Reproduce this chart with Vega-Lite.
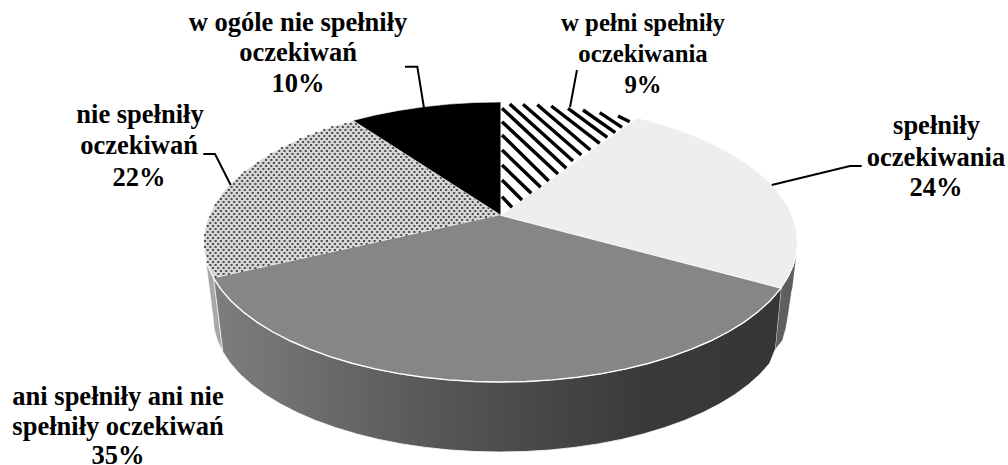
{"$schema":"https://vega.github.io/schema/vega-lite/v6.json","width":1008,"height":465,"padding":0,"autosize":{"type":"none"},"background":"white","config":{"view":{"stroke":null}},
"datasets":{
"outline":[
{"s":"rightwall","x":796.4,"y":254.2},{"s":"rightwall","x":793,"y":266.3},{"s":"rightwall","x":787.4,"y":278.2},{"s":"rightwall","x":781,"y":288},{"s":"rightwall","x":775,"y":350},{"s":"rightwall","x":782.6,"y":340.4},{"s":"rightwall","x":785.9,"y":328.8},{"s":"rightwall","x":788,"y":317},{"s":"rightwall","x":792,"y":290},
{"s":"dotwall","x":213.6,"y":278.2},{"s":"dotwall","x":208,"y":266.3},{"s":"dotwall","x":206,"y":262},{"s":"dotwall","x":213,"y":317},{"s":"dotwall","x":214.1,"y":328.8},{"s":"dotwall","x":217.4,"y":340.4},{"s":"dotwall","x":222.8,"y":351.9},
{"s":"darkwall","x":781,"y":288},{"s":"darkwall","x":779.6,"y":289.9},{"s":"darkwall","x":769.7,"y":301.2},{"s":"darkwall","x":757.7,"y":312},{"s":"darkwall","x":743.8,"y":322.3},{"s":"darkwall","x":728,"y":332},{"s":"darkwall","x":710.5,"y":341},{"s":"darkwall","x":691.4,"y":349.2},{"s":"darkwall","x":670.9,"y":356.7},{"s":"darkwall","x":649,"y":363.2},{"s":"darkwall","x":626,"y":368.9},{"s":"darkwall","x":602.1,"y":373.6},{"s":"darkwall","x":577.4,"y":377.2},{"s":"darkwall","x":552.1,"y":379.9},{"s":"darkwall","x":526.4,"y":381.5},{"s":"darkwall","x":500.5,"y":382},{"s":"darkwall","x":474.6,"y":381.5},{"s":"darkwall","x":448.9,"y":379.9},{"s":"darkwall","x":423.6,"y":377.2},{"s":"darkwall","x":398.9,"y":373.6},{"s":"darkwall","x":375,"y":368.9},{"s":"darkwall","x":352,"y":363.2},{"s":"darkwall","x":330.1,"y":356.7},{"s":"darkwall","x":309.6,"y":349.2},{"s":"darkwall","x":290.5,"y":341},{"s":"darkwall","x":273,"y":332},{"s":"darkwall","x":257.2,"y":322.3},{"s":"darkwall","x":243.3,"y":312},{"s":"darkwall","x":231.3,"y":301.2},{"s":"darkwall","x":221.4,"y":289.9},{"s":"darkwall","x":213.6,"y":278.2},
{"s":"darkwall","x":222.8,"y":351.9},{"s":"darkwall","x":230.3,"y":363.2},{"s":"darkwall","x":239.9,"y":374.1},{"s":"darkwall","x":251.5,"y":384.5},{"s":"darkwall","x":264.9,"y":394.4},{"s":"darkwall","x":280.2,"y":403.8},{"s":"darkwall","x":297.1,"y":412.5},{"s":"darkwall","x":315.5,"y":420.4},{"s":"darkwall","x":335.4,"y":427.6},{"s":"darkwall","x":356.5,"y":433.9},{"s":"darkwall","x":378.7,"y":439.4},{"s":"darkwall","x":401.8,"y":443.9},{"s":"darkwall","x":425.7,"y":447.4},{"s":"darkwall","x":450.2,"y":450},{"s":"darkwall","x":475,"y":451.5},{"s":"darkwall","x":500,"y":452},{"s":"darkwall","x":525,"y":451.5},{"s":"darkwall","x":549.8,"y":450},{"s":"darkwall","x":574.3,"y":447.4},{"s":"darkwall","x":598.2,"y":443.9},{"s":"darkwall","x":621.3,"y":439.4},{"s":"darkwall","x":643.5,"y":433.9},{"s":"darkwall","x":664.6,"y":427.6},{"s":"darkwall","x":684.5,"y":420.4},{"s":"darkwall","x":702.9,"y":412.5},{"s":"darkwall","x":719.8,"y":403.8},{"s":"darkwall","x":735.1,"y":394.4},{"s":"darkwall","x":748.5,"y":384.5},{"s":"darkwall","x":760.1,"y":374.1},{"s":"darkwall","x":769.7,"y":363.2},{"s":"darkwall","x":775,"y":350},
{"s":"w pełni spełniły oczekiwania","x":500.5,"y":215},{"s":"w pełni spełniły oczekiwania","x":500.5,"y":102},{"s":"w pełni spełniły oczekiwania","x":526.4,"y":102.5},{"s":"w pełni spełniły oczekiwania","x":552.1,"y":104.1},{"s":"w pełni spełniły oczekiwania","x":577.4,"y":106.8},{"s":"w pełni spełniły oczekiwania","x":602.1,"y":110.4},{"s":"w pełni spełniły oczekiwania","x":626,"y":115.1},{"s":"w pełni spełniły oczekiwania","x":637.1,"y":117.7},
{"s":"spełniły oczekiwania","x":500.5,"y":215},{"s":"spełniły oczekiwania","x":637.1,"y":117.7},{"s":"spełniły oczekiwania","x":649,"y":120.8},{"s":"spełniły oczekiwania","x":670.9,"y":127.3},{"s":"spełniły oczekiwania","x":691.4,"y":134.8},{"s":"spełniły oczekiwania","x":710.5,"y":143},{"s":"spełniły oczekiwania","x":728,"y":152},{"s":"spełniły oczekiwania","x":743.8,"y":161.7},{"s":"spełniły oczekiwania","x":757.7,"y":172},{"s":"spełniły oczekiwania","x":769.7,"y":182.8},{"s":"spełniły oczekiwania","x":779.6,"y":194.1},{"s":"spełniły oczekiwania","x":787.4,"y":205.8},{"s":"spełniły oczekiwania","x":793,"y":217.7},{"s":"spełniły oczekiwania","x":796.4,"y":229.8},{"s":"spełniły oczekiwania","x":797.5,"y":242},{"s":"spełniły oczekiwania","x":796.4,"y":254.2},{"s":"spełniły oczekiwania","x":793,"y":266.3},{"s":"spełniły oczekiwania","x":787.4,"y":278.2},{"s":"spełniły oczekiwania","x":781,"y":288},
{"s":"ani spełniły ani nie spełniły oczekiwań","x":500.5,"y":215},{"s":"ani spełniły ani nie spełniły oczekiwań","x":781,"y":288},{"s":"ani spełniły ani nie spełniły oczekiwań","x":779.6,"y":289.9},{"s":"ani spełniły ani nie spełniły oczekiwań","x":769.7,"y":301.2},{"s":"ani spełniły ani nie spełniły oczekiwań","x":757.7,"y":312},{"s":"ani spełniły ani nie spełniły oczekiwań","x":743.8,"y":322.3},{"s":"ani spełniły ani nie spełniły oczekiwań","x":728,"y":332},{"s":"ani spełniły ani nie spełniły oczekiwań","x":710.5,"y":341},{"s":"ani spełniły ani nie spełniły oczekiwań","x":691.4,"y":349.2},{"s":"ani spełniły ani nie spełniły oczekiwań","x":670.9,"y":356.7},{"s":"ani spełniły ani nie spełniły oczekiwań","x":649,"y":363.2},{"s":"ani spełniły ani nie spełniły oczekiwań","x":626,"y":368.9},{"s":"ani spełniły ani nie spełniły oczekiwań","x":602.1,"y":373.6},{"s":"ani spełniły ani nie spełniły oczekiwań","x":577.4,"y":377.2},{"s":"ani spełniły ani nie spełniły oczekiwań","x":552.1,"y":379.9},{"s":"ani spełniły ani nie spełniły oczekiwań","x":526.4,"y":381.5},{"s":"ani spełniły ani nie spełniły oczekiwań","x":500.5,"y":382},{"s":"ani spełniły ani nie spełniły oczekiwań","x":474.6,"y":381.5},{"s":"ani spełniły ani nie spełniły oczekiwań","x":448.9,"y":379.9},{"s":"ani spełniły ani nie spełniły oczekiwań","x":423.6,"y":377.2},{"s":"ani spełniły ani nie spełniły oczekiwań","x":398.9,"y":373.6},{"s":"ani spełniły ani nie spełniły oczekiwań","x":375,"y":368.9},{"s":"ani spełniły ani nie spełniły oczekiwań","x":352,"y":363.2},{"s":"ani spełniły ani nie spełniły oczekiwań","x":330.1,"y":356.7},{"s":"ani spełniły ani nie spełniły oczekiwań","x":309.6,"y":349.2},{"s":"ani spełniły ani nie spełniły oczekiwań","x":290.5,"y":341},{"s":"ani spełniły ani nie spełniły oczekiwań","x":273,"y":332},{"s":"ani spełniły ani nie spełniły oczekiwań","x":257.2,"y":322.3},{"s":"ani spełniły ani nie spełniły oczekiwań","x":243.3,"y":312},{"s":"ani spełniły ani nie spełniły oczekiwań","x":231.3,"y":301.2},{"s":"ani spełniły ani nie spełniły oczekiwań","x":221.4,"y":289.9},{"s":"ani spełniły ani nie spełniły oczekiwań","x":213.6,"y":278.2},
{"s":"nie spełniły oczekiwań","x":500.5,"y":215},{"s":"nie spełniły oczekiwań","x":213.6,"y":278.2},{"s":"nie spełniły oczekiwań","x":208,"y":266.3},{"s":"nie spełniły oczekiwań","x":204.6,"y":254.2},{"s":"nie spełniły oczekiwań","x":203.5,"y":242},{"s":"nie spełniły oczekiwań","x":204.6,"y":229.8},{"s":"nie spełniły oczekiwań","x":208,"y":217.7},{"s":"nie spełniły oczekiwań","x":213.6,"y":205.8},{"s":"nie spełniły oczekiwań","x":221.4,"y":194.1},{"s":"nie spełniły oczekiwań","x":231.3,"y":182.8},{"s":"nie spełniły oczekiwań","x":243.3,"y":172},{"s":"nie spełniły oczekiwań","x":257.2,"y":161.7},{"s":"nie spełniły oczekiwań","x":273,"y":152},{"s":"nie spełniły oczekiwań","x":290.5,"y":143},{"s":"nie spełniły oczekiwań","x":309.6,"y":134.8},{"s":"nie spełniły oczekiwań","x":330.1,"y":127.3},{"s":"nie spełniły oczekiwań","x":352.9,"y":120.5},
{"s":"w ogóle nie spełniły oczekiwań","x":500.5,"y":215},{"s":"w ogóle nie spełniły oczekiwań","x":352.9,"y":120.5},{"s":"w ogóle nie spełniły oczekiwań","x":375,"y":115.1},{"s":"w ogóle nie spełniły oczekiwań","x":398.9,"y":110.4},{"s":"w ogóle nie spełniły oczekiwań","x":423.6,"y":106.8},{"s":"w ogóle nie spełniły oczekiwań","x":448.9,"y":104.1},{"s":"w ogóle nie spełniły oczekiwań","x":474.6,"y":102.5},{"s":"w ogóle nie spełniły oczekiwań","x":500.5,"y":102}
],
"hatch":[{"x":502,"y":196.7,"x2":512,"y2":207.3},{"x":502,"y":180,"x2":522,"y2":200},{"x":502,"y":165,"x2":531.3,"y2":193.3},{"x":502,"y":150,"x2":540.7,"y2":187.3},{"x":502,"y":135,"x2":548.7,"y2":181},{"x":502,"y":121.7,"x2":558,"y2":174},{"x":502,"y":108.3,"x2":566.3,"y2":168.3},{"x":509.7,"y":104,"x2":573,"y2":161},{"x":523,"y":104.3,"x2":581.3,"y2":155},{"x":537.3,"y":104.7,"x2":590.3,"y2":150},{"x":551.3,"y":106,"x2":599.7,"y2":143.3},{"x":568,"y":108.3,"x2":607.3,"y2":137.3},{"x":583,"y":110,"x2":615.3,"y2":132.7},{"x":599.7,"y":112.7,"x2":622,"y2":127.3},{"x":618,"y":116,"x2":629.7,"y2":121.7}],
"dots":[{"x":344.5,"x2":357.7,"y":124},{"x":331.25,"x2":362.4,"y":127},{"x":323.3,"x2":367.1,"y":130},{"x":315.35,"x2":371.8,"y":133},{"x":307.4,"x2":376.5,"y":136},{"x":299.45,"x2":381.3,"y":139},{"x":296.8,"x2":386,"y":142},{"x":288.85,"x2":390.7,"y":145},{"x":280.9,"x2":395.4,"y":148},{"x":278.25,"x2":400.1,"y":151},{"x":270.3,"x2":404.8,"y":154},{"x":267.65,"x2":409.5,"y":157},{"x":265,"x2":414.2,"y":160},{"x":257.05,"x2":418.9,"y":163},{"x":254.4,"x2":423.6,"y":166},{"x":251.75,"x2":428.3,"y":169},{"x":243.8,"x2":433,"y":172},{"x":241.15,"x2":437.7,"y":175},{"x":238.5,"x2":442.4,"y":178},{"x":235.85,"x2":447.2,"y":181},{"x":233.2,"x2":451.9,"y":184},{"x":230.55,"x2":456.6,"y":187},{"x":227.9,"x2":461.3,"y":190},{"x":225.25,"x2":466,"y":193},{"x":222.6,"x2":470.7,"y":196},{"x":219.95,"x2":475.4,"y":199},{"x":217.3,"x2":480.1,"y":202},{"x":214.65,"x2":484.8,"y":205},{"x":217.3,"x2":489.5,"y":208},{"x":214.65,"x2":494.2,"y":211},{"x":212,"x2":498.9,"y":214},{"x":209.35,"x2":491.4,"y":217},{"x":212,"x2":477.7,"y":220},{"x":209.35,"x2":464.1,"y":223},{"x":206.7,"x2":450.5,"y":226},{"x":209.35,"x2":436.8,"y":229},{"x":206.7,"x2":423.1,"y":232},{"x":204.05,"x2":409.5,"y":235},{"x":206.7,"x2":395.8,"y":238},{"x":204.05,"x2":382.2,"y":241},{"x":206.7,"x2":368.5,"y":244},{"x":204.05,"x2":354.9,"y":247},{"x":206.7,"x2":341.2,"y":250},{"x":209.35,"x2":327.6,"y":253},{"x":206.7,"x2":313.9,"y":256},{"x":209.35,"x2":300.3,"y":259},{"x":206.7,"x2":286.6,"y":262},{"x":209.35,"x2":273,"y":265},{"x":212,"x2":259.5,"y":268},{"x":214.65,"x2":245.7,"y":271},{"x":217.3,"x2":232,"y":274},{"x":214.65,"x2":218.5,"y":277}],
"leaders":[{"k":"a","x":577,"y":70},{"k":"a","x":570,"y":107},{"k":"b","x":405,"y":66.7},{"k":"b","x":417.3,"y":66.7},{"k":"b","x":424,"y":108},{"k":"c","x":771.7,"y":185},{"k":"c","x":850,"y":166},{"k":"c","x":861.7,"y":166},{"k":"d","x":203.3,"y":154},{"k":"d","x":215,"y":154},{"k":"d","x":230.7,"y":185}],
"labels":[{"t":"w ogóle nie spełniły","x":298,"y":31},{"t":"oczekiwań","x":298,"y":61},{"t":"10%","x":298,"y":92},{"t":"spełniły","x":936.5,"y":134},{"t":"oczekiwania","x":936,"y":165.7},{"t":"24%","x":936,"y":196},{"t":"nie spełniły","x":140,"y":123},{"t":"oczekiwań","x":139,"y":154},{"t":"22%","x":139,"y":186},{"t":"ani spełniły ani nie","x":118,"y":405},{"t":"spełniły oczekiwań","x":118,"y":435},{"t":"35%","x":118,"y":464}],
"labelsSmall":[{"t":"w pełni spełniły","x":643,"y":31},{"t":"oczekiwania","x":643,"y":62},{"t":"9%","x":643,"y":93}]
},
"encoding":{"x":{"field":"x","type":"quantitative","axis":null,"scale":{"domain":[0,1008],"range":[0,1008],"nice":false,"zero":false}},"y":{"field":"y","type":"quantitative","axis":null,"scale":{"domain":[0,465],"range":[0,465],"nice":false,"zero":false}}},
"layer":[
{"data":{"name":"outline"},"transform":[{"filter":"datum.s==='rightwall'"}],"mark":{"type":"line","fill":"#5f5f5f","stroke":"white","strokeWidth":0.8},"encoding":{"order":{"value":null}}},
{"data":{"name":"outline"},"transform":[{"filter":"datum.s==='dotwall'"}],"mark":{"type":"line","fill":"#a8a8a8","stroke":"white","strokeWidth":0.6},"encoding":{"order":{"value":null}}},
{"data":{"name":"outline"},"transform":[{"filter":"datum.s==='darkwall'"}],"mark":{"type":"line","stroke":"white","strokeWidth":0.8,"fill":{"gradient":"linear","x1":0,"x2":1,"y1":0,"y2":0,"stops":[{"offset":0,"color":"#7e7e7e"},{"offset":0.4,"color":"#565656"},{"offset":0.75,"color":"#3a3a3a"},{"offset":1,"color":"#363636"}]}},"encoding":{"order":{"value":null}}},
{"data":{"name":"outline"},"transform":[{"filter":"datum.s==='nie spełniły oczekiwań'"}],"mark":{"type":"line","fill":"#d6d6d6","stroke":"white","strokeWidth":1},"encoding":{"order":{"value":null}}},
{"data":{"name":"dots"},"mark":{"type":"rule","stroke":"#4d4d4d","strokeWidth":2,"strokeDash":[2,3.3]},"encoding":{"x2":{"field":"x2"}}},
{"data":{"name":"outline"},"transform":[{"filter":"datum.s==='ani spełniły ani nie spełniły oczekiwań'"}],"mark":{"type":"line","fill":"#868686","stroke":"white","strokeWidth":1.4},"encoding":{"order":{"value":null}}},
{"data":{"name":"outline"},"transform":[{"filter":"datum.s==='spełniły oczekiwania'"}],"mark":{"type":"line","fill":"#eeeeee","stroke":"white","strokeWidth":1},"encoding":{"order":{"value":null}}},
{"data":{"name":"outline"},"transform":[{"filter":"datum.s==='w pełni spełniły oczekiwania'"}],"mark":{"type":"line","fill":"#ffffff","stroke":"white","strokeWidth":1},"encoding":{"order":{"value":null}}},
{"data":{"name":"hatch"},"mark":{"type":"rule","stroke":"black","strokeWidth":3.4},"encoding":{"x2":{"field":"x2"},"y2":{"field":"y2"}}},
{"data":{"name":"outline"},"transform":[{"filter":"datum.s==='w ogóle nie spełniły oczekiwań'"}],"mark":{"type":"line","fill":"#000000","stroke":"white","strokeWidth":0.6},"encoding":{"order":{"value":null}}},
{"data":{"name":"leaders"},"mark":{"type":"line","stroke":"black","strokeWidth":2},"encoding":{"detail":{"field":"k"},"order":{"value":null}}},
{"data":{"name":"labels"},"mark":{"type":"text","font":"Liberation Serif","fontWeight":"bold","fontSize":26.5,"align":"center","baseline":"alphabetic","fill":"black"},"encoding":{"text":{"field":"t"}}},
{"data":{"name":"labelsSmall"},"mark":{"type":"text","font":"Liberation Serif","fontWeight":"bold","fontSize":24.8,"align":"center","baseline":"alphabetic","fill":"black"},"encoding":{"text":{"field":"t"}}}
]}
